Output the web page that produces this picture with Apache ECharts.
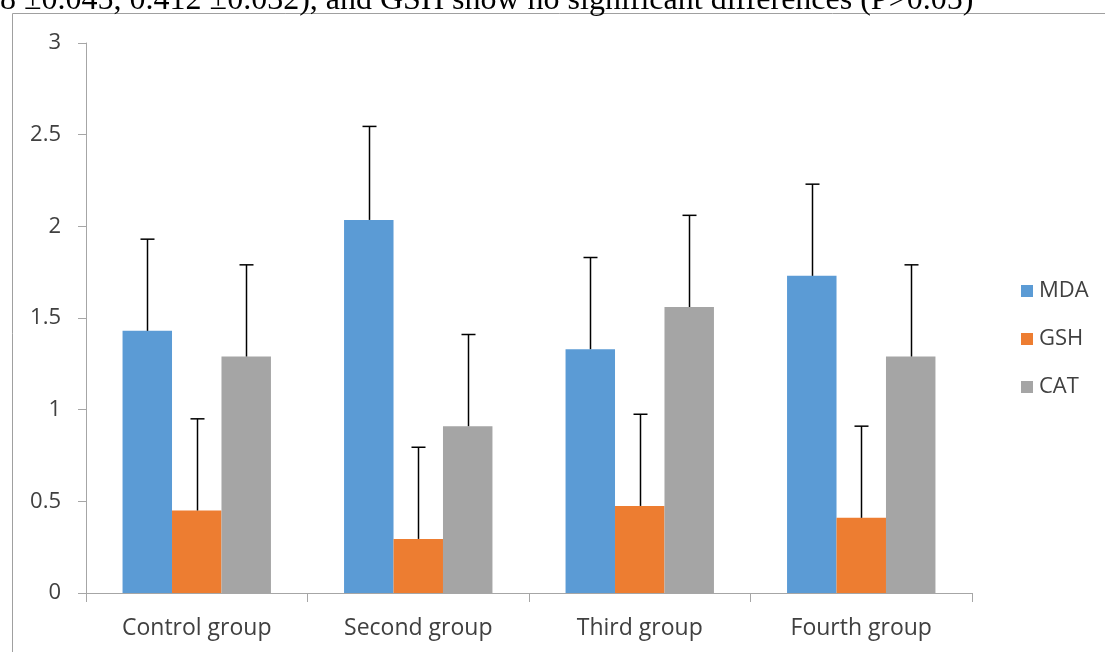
<!DOCTYPE html>
<html>
<head>
<meta charset="utf-8">
<script src="https://cdn.jsdelivr.net/npm/echarts@6/dist/echarts.min.js"></script>
<style>html,body{margin:0;padding:0;background:#fff;}#c{width:1105px;height:652px;}</style>
</head>
<body>
<div id="c"></div>
<script>
var categories = ['Control group', 'Second group', 'Third group', 'Fourth group'];
var seriesNames = ['MDA', 'GSH', 'CAT'];
var mda = [1.43, 2.035, 1.33, 1.73];
var gsh = [0.45, 0.295, 0.475, 0.41];
var cat = [1.29, 0.91, 1.56, 1.29];
var mdaErr = [0.5, 0.51, 0.5, 0.5];
var gshErr = [0.5, 0.5, 0.5, 0.5];
var catErr = [0.5, 0.5, 0.5, 0.5];
var colors = ['#5b9bd5', '#ed7d31', '#a5a5a5'];
var captionText = '8 \u00b10.045, 0.412 \u00b10.032), and GSH show no significant differences (P\u02c30.05)';

var values = [mda, gsh, cat];
var errs = [mdaErr, gshErr, catErr];
var gapRatio = 0.33;

function errSeries(k) {
  var data = values[k].map(function (v, i) { return [i, v, v + errs[k][i]]; });
  return {
    type: 'custom',
    name: seriesNames[k] + ' err',
    z: 5,
    silent: true,
    data: data,
    renderItem: function (params, api) {
      var i = api.value(0);
      var band = api.size([1, 0])[0];
      var bw = band * (1 - gapRatio) / 3;
      var c = api.coord([i, api.value(1)]);
      var t = api.coord([i, api.value(2)]);
      var x = Math.round(c[0] + (k - 1) * bw) + 0.5;
      var cap = 7;
      var st = { stroke: '#000', lineWidth: 1.5 };
      return { type: 'group', children: [
        { type: 'line', shape: { x1: x, y1: c[1], x2: x, y2: t[1] }, style: st },
        { type: 'line', shape: { x1: x - cap, y1: t[1], x2: x + cap, y2: t[1] }, style: st }
      ]};
    }
  };
}

var font = 'Open Sans';
var series = seriesNames.map(function (n, k) {
  return { type: 'bar', name: n, data: values[k], barGap: '0%', barCategoryGap: (gapRatio * 100) + '%',
    itemStyle: { color: colors[k] } };
});
[0, 1, 2].forEach(function (k) { series.push(errSeries(k)); });

var chart = echarts.init(document.getElementById('c'));
chart.setOption({
  animation: false,
  backgroundColor: '#fff',
  color: colors,
  grid: { left: 86, right: 133, top: 43, bottom: 59, containLabel: false },
  legend: {
    data: seriesNames,
    orient: 'vertical', left: 1016, top: 275,
    itemWidth: 12, itemHeight: 12, itemGap: 26,
    icon: 'rect',
    textStyle: { fontFamily: font, fontSize: 22, color: '#404040', padding: [0, 0, 0, 1] }
  },
  xAxis: {
    type: 'category', data: categories,
    axisLine: { lineStyle: { color: '#a6a6a6', width: 1 } },
    axisTick: { show: true, length: 9, lineStyle: { color: '#a6a6a6' } },
    axisLabel: { fontFamily: font, fontSize: 23, color: '#404040', margin: 24 }
  },
  yAxis: {
    type: 'value', min: 0, max: 3, interval: 0.5,
    axisLine: { show: true, lineStyle: { color: '#a6a6a6', width: 1 } },
    axisTick: { show: true, length: 8, lineStyle: { color: '#a6a6a6' } },
    splitLine: { show: false },
    axisLabel: { fontFamily: font, fontSize: 22, color: '#404040', margin: 25 }
  },
  graphic: [
    { type: 'rect', shape: { x: 12.5, y: 13.5, width: 1200, height: 800 },
      style: { fill: 'none', stroke: '#a0a0a0', lineWidth: 1 }, z: 0 },
    { type: 'text', left: 0, top: -15, style: { text: captionText, font: '32px "Liberation Serif"', fill: '#000' } }
  ],
  series: series
});
</script>
</body>
</html>
